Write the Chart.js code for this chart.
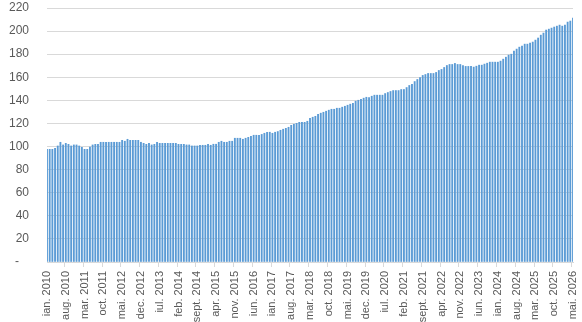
<!DOCTYPE html>
<html>
<head>
<meta charset="utf-8">
<script src="https://cdn.jsdelivr.net/npm/chart.js@4/dist/chart.umd.min.js"></script>
<style>
  html, body { margin: 0; padding: 0; background: #fff; }
  #wrap { width: 582px; height: 322px; }
</style>
</head>
<body>
<div id="wrap"><canvas id="ch"></canvas></div>
<script>
// ========================
// Data
// ========================
const LUNI = ['ian.','feb.','mar.','apr.','mai.','iun.','iul.','aug.','sept.','oct.','nov.','dec.'];
const ANI = [2010,2011,2012,2013,2014,2015,2016,2017,2018,2019,2020,2021,2022,2023,2024,2025,2026];
const NR_LUNI_2026 = 5; // ian. - mai. 2026

const valori = [
  97.6, 97.6, 97.6, 98.5, 100.5, 103.7, 101.4, 102.8, 101.9, 100.5,
  101.4, 101.4, 100.5, 99.3, 97.6, 97.6, 99.6, 101.4, 101.9, 101.9,
  103.7, 103.7, 103.7, 103.7, 103.7, 103.7, 103.7, 103.7, 105.4, 104.6,
  106.3, 105.4, 105.4, 105.4, 105.4, 103.7, 102.8, 101.9, 102.8, 101.4,
  101.9, 103.7, 102.8, 102.8, 102.8, 102.8, 102.8, 102.8, 102.8, 101.9,
  101.9, 101.9, 101.4, 101.4, 100.5, 100.5, 100.5, 101.1, 101.1, 101.1,
  102.0, 101.1, 102.0, 102.0, 103.7, 104.6, 103.7, 103.7, 104.6, 104.6,
  107.2, 107.2, 107.2, 106.3, 107.2, 108.0, 108.9, 109.8, 109.8, 109.8,
  110.5, 111.5, 112.4, 112.4, 111.5, 112.4, 113.0, 114.1, 115.0, 115.8,
  116.7, 118.4, 119.3, 120.1, 121.0, 121.0, 121.0, 121.9, 124.5, 125.4,
  126.2, 128.0, 128.9, 129.7, 130.6, 131.5, 132.3, 132.3, 133.2, 133.2,
  134.1, 134.9, 135.8, 136.7, 137.5, 139.3, 140.1, 141.0, 141.9, 142.7,
  142.5, 143.6, 144.5, 144.5, 144.5, 144.5, 145.9, 146.8, 147.7, 148.5,
  148.5, 148.5, 149.4, 149.4, 151.1, 152.9, 153.8, 156.3, 158.1, 159.8,
  161.6, 162.4, 163.3, 163.3, 163.3, 164.2, 165.9, 166.8, 168.5, 170.2,
  171.1, 171.1, 172.0, 171.1, 171.1, 170.2, 169.4, 169.4, 169.4, 168.8,
  169.6, 170.5, 170.5, 171.4, 172.2, 173.1, 173.1, 173.1, 173.1, 174.0,
  175.7, 177.4, 179.2, 180.0, 182.6, 184.4, 186.1, 187.0, 188.7, 188.7,
  189.6, 190.5, 192.2, 194.0, 196.5, 198.3, 200.9, 201.7, 202.6, 203.5,
  204.3, 205.2, 204.3, 205.2, 207.8, 208.7, 211.3
];

const Y_MIN = 0, Y_MAX = 220, Y_PAS = 20;
const PAS_ETICHETE = 7; // o eticheta la 7 luni

// etichete lunare "ian. 2010" ... "mai. 2026"
const etichete = [];
ANI.forEach(an => {
  const n = an === 2026 ? NR_LUNI_2026 : 12;
  for (let m = 0; m < n; m++) etichete.push(LUNI[m] + ' ' + an);
});

// ========================
// Chart
// ========================
const font = { family: '"Liberation Sans", Arial, sans-serif', size: 11 };
const culoareText = '#595959';
const culoareGrid = '#d9d9d9';

new Chart(document.getElementById('ch'), {
  type: 'bar',
  data: {
    labels: etichete,
    datasets: [{
      data: valori,
      backgroundColor: '#5B9BD5',
      barThickness: 1.2
    }]
  },
  options: {
    responsive: true,
    maintainAspectRatio: false,
    animation: false,
    layout: { padding: { top: 8, right: 9, left: 0, bottom: 0 } },
    plugins: { legend: { display: false }, tooltip: { enabled: false } },
    scales: {
      x: {
        offset: false,
        grid: {
          drawOnChartArea: false,
          drawTicks: true,
          tickLength: 5,
          color: ctx => (ctx.index % PAS_ETICHETE === 0 ? culoareGrid : 'rgba(0,0,0,0)')
        },
        border: { color: culoareGrid },
        ticks: {
          autoSkip: false,
          maxRotation: 90,
          minRotation: 90,
          padding: 4,
          color: culoareText,
          font,
          callback: (v, i) => (i % PAS_ETICHETE === 0 ? etichete[i] : '')
        },
        afterFit: s => { s.height = 60; s.paddingLeft = 0; s.paddingRight = 0; }
      },
      y: {
        min: Y_MIN,
        max: Y_MAX,
        grid: { color: culoareGrid, drawTicks: false },
        border: { display: false },
        ticks: {
          stepSize: Y_PAS,
          padding: 18,
          color: culoareText,
          font: { ...font, size: 12 },
          callback: v => (v === 0 ? '-   ' : v)
        },
        afterFit: s => { s.width = 47; s.paddingTop = 0; s.paddingBottom = 0; }
      }
    }
  }
});
</script>
</body>
</html>
